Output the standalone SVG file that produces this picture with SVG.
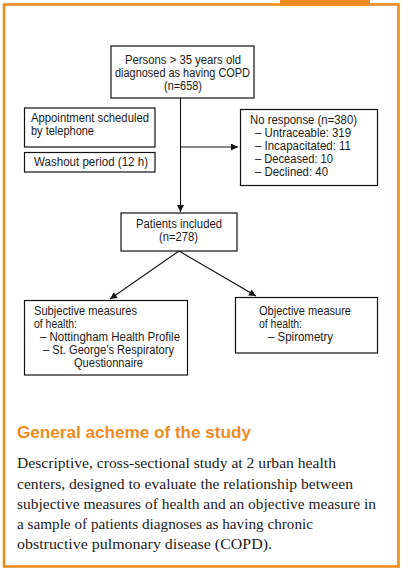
<svg xmlns="http://www.w3.org/2000/svg" width="408" height="574" viewBox="0 0 408 574">
<style>
.box{fill:#fff;stroke:#111;stroke-width:1.2}
.t{font-family:"Liberation Sans",Arial,sans-serif;font-size:12px;fill:#1a1a1a}
.b{font-family:"Liberation Serif","Times New Roman",serif;font-size:15.5px;fill:#1a1a1a}
.h{font-family:"Liberation Sans",Arial,sans-serif;font-size:17px;font-weight:bold;fill:#EF8B1F}
.c{fill:none;stroke:#111;stroke-width:1.1}
</style>
<defs>
<marker id="ah" viewBox="0 0 10 10" refX="10" refY="5" markerWidth="9" markerHeight="7" markerUnits="userSpaceOnUse" orient="auto">
<path d="M0,0 L10,5 L0,10 z" fill="#111"/>
</marker>
</defs>
<rect x="0" y="0" width="408" height="574" fill="#fff"/>
<rect x="4" y="4.5" width="394.5" height="562" fill="none" stroke="#EF8B1F" stroke-width="2.6"/>
<rect x="280" y="0" width="90" height="6" fill="#EF8B1F"/>

<g id="connectors">
<line class="c" x1="180.5" y1="98" x2="180.5" y2="212" marker-end="url(#ah)"/>
<line class="c" x1="180.5" y1="147" x2="238" y2="147" marker-end="url(#ah)"/>
<line class="c" x1="179" y1="251" x2="110" y2="299" marker-end="url(#ah)"/>
<line class="c" x1="179" y1="251" x2="256" y2="296" marker-end="url(#ah)"/>
</g>

<g id="persons">
<rect class="box" x="111" y="46" width="143" height="52"/>
<text class="t" x="125" y="64" textLength="116" lengthAdjust="spacingAndGlyphs">Persons &gt; 35 years old</text>
<text class="t" x="115" y="77" textLength="135" lengthAdjust="spacingAndGlyphs">diagnosed as having COPD</text>
<text class="t" x="164" y="90" textLength="38" lengthAdjust="spacingAndGlyphs">(n=658)</text>
</g>

<g id="appointment">
<rect class="box" x="24.5" y="108" width="130.5" height="39"/>
<text class="t" x="31" y="121.5" textLength="118" lengthAdjust="spacingAndGlyphs">Appointment scheduled</text>
<text class="t" x="31" y="134.5" textLength="63" lengthAdjust="spacingAndGlyphs">by telephone</text>
</g>

<g id="washout">
<rect class="box" x="24.5" y="152.5" width="130.5" height="19.5"/>
<text class="t" x="34" y="166" textLength="114" lengthAdjust="spacingAndGlyphs">Washout period (12 h)</text>
</g>

<g id="noresponse">
<rect class="box" x="240.5" y="109.5" width="137" height="76"/>
<text class="t" x="250" y="123.5" textLength="107" lengthAdjust="spacingAndGlyphs">No response (n=380)</text>
<text class="t" x="255" y="137" textLength="96" lengthAdjust="spacingAndGlyphs">– Untraceable: 319</text>
<text class="t" x="255" y="150" textLength="96" lengthAdjust="spacingAndGlyphs">– Incapacitated: 11</text>
<text class="t" x="255" y="163" textLength="78" lengthAdjust="spacingAndGlyphs">– Deceased: 10</text>
<text class="t" x="255" y="176" textLength="73" lengthAdjust="spacingAndGlyphs">– Declined: 40</text>
</g>

<g id="patients">
<rect class="box" x="121" y="213" width="116" height="38"/>
<text class="t" x="136" y="227.5" textLength="86" lengthAdjust="spacingAndGlyphs">Patients included</text>
<text class="t" x="159" y="241" textLength="39" lengthAdjust="spacingAndGlyphs">(n=278)</text>
</g>

<g id="subjective">
<rect class="box" x="24.5" y="300.5" width="163" height="74.5"/>
<text class="t" x="34" y="314.5" textLength="103" lengthAdjust="spacingAndGlyphs">Subjective measures</text>
<text class="t" x="34" y="327.5" textLength="43" lengthAdjust="spacingAndGlyphs">of health:</text>
<text class="t" x="40" y="340.5" textLength="140" lengthAdjust="spacingAndGlyphs">– Nottingham Health Profile</text>
<text class="t" x="43" y="353.5" textLength="131" lengthAdjust="spacingAndGlyphs">– St. George’s Respiratory</text>
<text class="t" x="74" y="366.5" textLength="69" lengthAdjust="spacingAndGlyphs">Questionnaire</text>
</g>

<g id="objective">
<rect class="box" x="235.5" y="297.5" width="142" height="55.5"/>
<text class="t" x="259" y="314.5" textLength="92" lengthAdjust="spacingAndGlyphs">Objective measure</text>
<text class="t" x="259" y="327.5" textLength="43" lengthAdjust="spacingAndGlyphs">of health:</text>
<text class="t" x="268" y="341" textLength="65" lengthAdjust="spacingAndGlyphs">– Spirometry</text>
</g>

<g id="caption">
<text class="h" x="17" y="437.5" textLength="234" lengthAdjust="spacingAndGlyphs">General acheme of the study</text>
<text class="b" x="17" y="468" textLength="319" lengthAdjust="spacingAndGlyphs">Descriptive, cross-sectional study at 2 urban health</text>
<text class="b" x="17" y="488.5" textLength="336" lengthAdjust="spacingAndGlyphs">centers, designed to evaluate the relationship between</text>
<text class="b" x="17" y="508.5" textLength="359" lengthAdjust="spacingAndGlyphs">subjective measures of health and an objective measure in</text>
<text class="b" x="17" y="528.5" textLength="296" lengthAdjust="spacingAndGlyphs">a sample of patients diagnoses as having chronic</text>
<text class="b" x="17" y="548.5" textLength="255" lengthAdjust="spacingAndGlyphs">obstructive pulmonary disease (COPD).</text>
</g>
</svg>
